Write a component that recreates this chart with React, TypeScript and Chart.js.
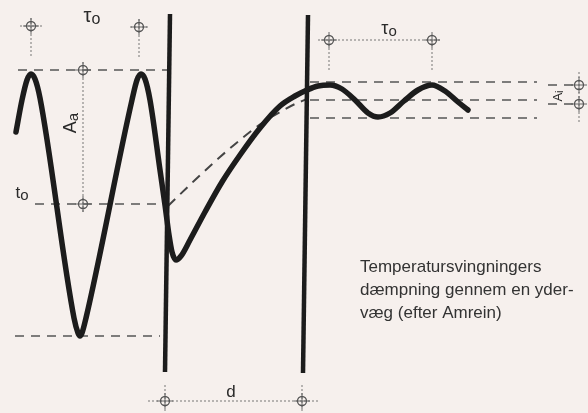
import React, { useEffect, useRef } from 'react';
import { Chart, registerables } from 'chart.js';
Chart.register(...registerables);

type P = { x: number; y: number };
const pts = (a: number[][]): P[] => a.map(([x, y]) => ({ x, y }));

// Temperature course: outside oscillation, through the wall, damped inside
const temperatureCurve = pts([
  [16, 132], [22, 100], [27, 80], [31, 74], [35, 79], [40, 98],
  [74, 318], [78, 333], [80, 336], [82, 333], [86, 318],
  [132, 100], [137, 80], [141, 74], [145, 79], [150, 100],
  [160, 170], [165, 205], [169, 235], [172, 252], [176, 260], [181, 256],
  [190, 240], [205, 212], [222, 182], [240, 155], [260, 128], [280, 106],
  [295, 96], [307, 90], [318, 86], [330, 85], [342, 89], [355, 100],
  [368, 113], [378, 117], [390, 113], [404, 101], [418, 90], [432, 85],
  [445, 91], [458, 102], [468, 110],
]);
// mean temperature through the wall (dashed)
const meanCurve = pts([
  [168, 206], [195, 180], [220, 157], [240, 140], [262, 123], [280, 112], [295, 104], [307, 99],
]);
// wall faces
const outerFace = pts([[170, 14], [165, 372]]);
const innerFace = pts([[308, 15], [303, 373]]);
// dashed reference levels
const dashedLevels: number[][][] = [
  [[18, 70], [168, 70]],
  [[35, 204], [165, 204]],
  [[15, 336], [160, 336]],
  [[310, 82], [537, 82]],
  [[310, 100], [537, 100]],
  [[310, 118], [537, 118]],
  [[548, 85], [579, 85]],
  [[548, 104], [579, 104]],
];
// thin dimension lines
const dimensionLines: number[][][] = [
  [[31, 18], [31, 58]], [[20, 26], [44, 26]],
  [[139, 19], [139, 58]], [[130, 27], [150, 27]],
  [[83, 62], [83, 212]],
  [[318, 40], [442, 40]], [[329, 40], [329, 70]], [[432, 40], [432, 70]],
  [[148, 401], [318, 401]], [[165, 385], [165, 413]], [[302, 385], [302, 413]],
  [[579, 72], [579, 123]],
];
const markers = pts([
  [31, 26], [139, 27], [83, 70], [83, 204], [329, 40], [432, 40],
  [165, 401], [302, 401], [579, 85], [579, 104],
]);
type Lab = { main: string; sub: string; x: number; y: number; size: number; subSize: number; rot: number };
const labels: Lab[] = [
  { main: 'τ', sub: 'o', x: 92, y: 16, size: 20, subSize: 16, rot: 0 },
  { main: 'τ', sub: 'o', x: 389, y: 29, size: 18, subSize: 15, rot: 0 },
  { main: 't', sub: 'o', x: 22, y: 193, size: 17, subSize: 15, rot: 0 },
  { main: 'A', sub: 'a', x: 71, y: 123, size: 18, subSize: 15, rot: -Math.PI / 2 },
  { main: 'd', sub: '', x: 231, y: 392, size: 17, subSize: 12, rot: 0 },
  { main: 'A', sub: 'i', x: 558, y: 96, size: 13, subSize: 11, rot: -Math.PI / 2 },
];
const note = ['Temperatursvingningers', 'dæmpning gennem en yder-', 'væg (efter Amrein)'];

const BG = '#f6f0ed';
const INK = '#1c1c1c';
const FONT = '"Liberation Sans", Arial, sans-serif';

export default function App() {
  const ref = useRef<HTMLCanvasElement>(null);
  useEffect(() => {
    const xs = (c: Chart) => c.scales.x;
    const ys = (c: Chart) => c.scales.y;
    const textPlugin = {
      id: 'texts',
      beforeDraw(c: Chart) {
        const ctx = c.ctx;
        ctx.save();
        ctx.fillStyle = BG;
        ctx.fillRect(0, 0, c.width, c.height);
        ctx.restore();
      },
      afterDraw(c: Chart) {
        const ctx = c.ctx;
        ctx.save();
        ctx.fillStyle = '#2a2a2a';
        ctx.textBaseline = 'middle';
        for (const l of labels) {
          const px = xs(c).getPixelForValue(l.x);
          const py = ys(c).getPixelForValue(l.y);
          ctx.save();
          ctx.translate(px, py);
          ctx.rotate(l.rot);
          ctx.font = `${l.size}px ${FONT}`;
          const w1 = ctx.measureText(l.main).width;
          ctx.font = `${l.subSize}px ${FONT}`;
          const w2 = l.sub ? ctx.measureText(l.sub).width : 0;
          const x0 = -(w1 + w2) / 2;
          ctx.font = `${l.size}px ${FONT}`;
          ctx.textAlign = 'left';
          ctx.fillText(l.main, x0, 0);
          if (l.sub) {
            ctx.font = `${l.subSize}px ${FONT}`;
            ctx.fillText(l.sub, x0 + w1, l.size * 0.18);
          }
          ctx.restore();
        }
        ctx.font = `17px ${FONT}`;
        ctx.textAlign = 'left';
        ctx.textBaseline = 'alphabetic';
        ctx.fillStyle = '#333';
        note.forEach((t, i) => {
          ctx.fillText(t, xs(c).getPixelForValue(360), ys(c).getPixelForValue(272 + i * 23));
        });
        ctx.restore();
      },
    };

    const seg = (d: number[][], color: string, width: number, dash: number[], order: number) => ({
      data: pts(d),
      borderColor: color,
      borderWidth: width,
      borderDash: dash,
      pointRadius: 0,
      fill: false,
      tension: 0,
      clip: false,
      order,
    });

    const datasets: any[] = [
      {
        data: temperatureCurve,
        borderColor: INK,
        borderWidth: 5.5,
        pointRadius: 0,
        cubicInterpolationMode: 'monotone',
        borderJoinStyle: 'round',
        borderCapStyle: 'round',
        fill: false,
        clip: false,
        order: 0,
      },
      { data: outerFace, borderColor: INK, borderWidth: 4.5, pointRadius: 0, fill: false, clip: false, order: 0 },
      { data: innerFace, borderColor: INK, borderWidth: 4.5, pointRadius: 0, fill: false, clip: false, order: 0 },
      {
        data: meanCurve,
        borderColor: '#444',
        borderWidth: 2,
        borderDash: [10, 7],
        pointRadius: 0,
        cubicInterpolationMode: 'monotone',
        fill: false,
        clip: false,
        order: 1,
      },
      ...dashedLevels.map((d) => seg(d, '#555', 1.4, [9, 7], 2)),
      ...dimensionLines.map((d) => seg(d, '#777', 1, [2, 2], 3)),
      {
        data: markers,
        showLine: false,
        pointStyle: 'circle',
        pointRadius: 4.5,
        pointBorderWidth: 1.3,
        pointBorderColor: '#555',
        pointBackgroundColor: 'rgba(0,0,0,0)',
        clip: false,
        order: 1,
      },
      {
        data: markers,
        showLine: false,
        pointStyle: 'cross',
        pointRadius: 8,
        pointBorderWidth: 1,
        pointBorderColor: '#666',
        clip: false,
        order: 1,
      },
    ];

    const chart = new Chart(ref.current!, {
      type: 'line',
      data: { datasets },
      options: {
        animation: false,
        responsive: false,
        events: [],
        layout: { padding: 0, autoPadding: false },
        plugins: { legend: { display: false }, tooltip: { enabled: false } },
        scales: {
          x: { type: 'linear', min: 0, max: 588, display: false },
          y: { type: 'linear', min: 0, max: 413, reverse: true, display: false },
        },
      },
      plugins: [textPlugin],
    });
    return () => chart.destroy();
  }, []);
  return (
    <div style={{ position: 'absolute', left: 0, top: 0, width: 588, height: 413, background: BG }}>
      <canvas ref={ref} width={588} height={413} />
    </div>
  );
}
